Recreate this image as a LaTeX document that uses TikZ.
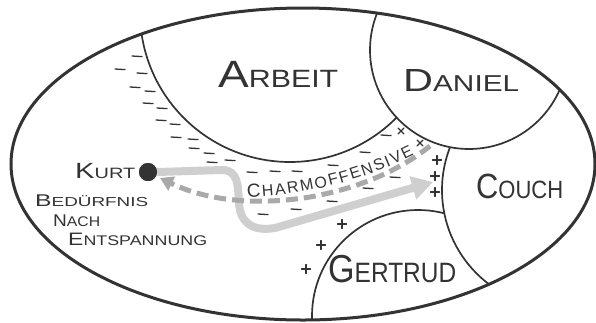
\documentclass[tikz,border=0pt]{standalone}
\usepackage{fontspec}
\setmainfont{Liberation Sans}
\usepackage{graphicx}
\usetikzlibrary{arrows.meta,decorations.text}
\definecolor{ink}{HTML}{333333}
\definecolor{lightarrow}{HTML}{CFCFCF}
\definecolor{midarrow}{HTML}{A9A9A9}
% width, big size, big letter, small size, rest
\newcommand\hw[5]{\resizebox{#1}{\height}{\fontsize{#2}{#2}\selectfont #3\fontsize{#4}{#4}\selectfont #5}}
\begin{document}
\begin{tikzpicture}[x=1pt,y=-1pt,
  region/.style={draw=ink, line width=1.7pt, fill=white},
  outline/.style={draw=ink, line width=3pt},
  lbl/.style={inner sep=0pt, text=ink, anchor=base west},
  tickmark/.style={draw=ink, line width=1.3pt, line cap=round},
  solidarrow/.style={draw=lightarrow, line width=8pt, -{Triangle[length=21pt,width=23pt]}},
  dasharrow/.style={draw=midarrow, line width=5pt, dash pattern=on 12pt off 6pt, -{Triangle[length=13pt,width=15pt]}}]
\useasboundingbox (0,0) rectangle (596,322);
\begin{scope}
  \clip (303,164) ellipse [x radius=292pt, y radius=156pt];
  \draw[region] (290,12) circle[radius=150pt];
  \draw[region] (418,316) circle[radius=106pt];
  \draw[region] (560,190) circle[radius=118pt];
  \draw[region] (469,50) circle[radius=99pt];
\end{scope}
\draw[outline] (303,164) ellipse [x radius=292pt, y radius=156pt];

% minus signs
\foreach \x/\y in {137/56,120/69,142/73,135/87,150/91,148/103,162/108,161/120,175/124,176/137,193/139,194/148,209/153,212/162,230/160,252/172,275/171,297/171,333/165,365/152,386/135,263/214,296/209,332/201,368/188,395/177}
  \draw[tickmark] (\x-5,\y) -- (\x+5,\y+0.6);
% plus signs
\foreach \x/\y in {437/160,435/176,435/192,342/224,321/245,306/269}
  \draw[tickmark] (\x-4.5,\y) -- (\x+4.5,\y) (\x,\y-4.5) -- (\x,\y+4.5);
% crosses
\foreach \x/\y in {401/131,420/143}
  \draw[tickmark] (\x-3,\y-3) -- (\x+3,\y+3) (\x-3,\y+3) -- (\x+3,\y-3);

% Kurt
\node[circle, fill=ink, minimum size=18pt, inner sep=0pt] (kurt) at (148,172) {};
\coordinate (couchtip) at (433,182);
\coordinate (dstart) at (430,146);
\coordinate (kurttip) at (160,178);
\draw[solidarrow] (kurt.east) -- (222,170) .. controls (238,170) and (238,185) .. (239,203) .. controls (240,222) and (252,232) .. (275,228) -- (couchtip);
\draw[dasharrow] (dstart) .. controls (400,170) and (360,188) .. (310,197) .. controls (260,205) and (210,202) .. (kurttip);
\node[circle, fill=ink, minimum size=18pt, inner sep=0pt] at (kurt) {};

% text along path
\path[decorate, decoration={text along path, text color=ink, text align=fit to path,
  text={|\fontsize{19}{19}\selectfont|C|\fontsize{16}{16}\selectfont|HARMOFFENSIVE}}]
  (247,197) .. controls (300,196) and (360,182) .. (414,155);

% labels
\node[lbl] (arbeit) at (218,87) {\hw{120pt}{38}{A}{25}{RBEIT}};
\node[lbl] (daniel) at (403,91) {\hw{116pt}{32}{D}{23}{ANIEL}};
\node[lbl] (couch) at (476,198) {\hw{87pt}{35}{C}{25}{OUCH}};
\node[lbl] (gertrud) at (328,282) {\hw{128pt}{39}{G}{28}{ERTRUD}};
\node[lbl] (kurtlbl) at (75,178) {\hw{60pt}{22}{K}{15}{URT}};
\node[lbl] (bed) at (35,206) {\hw{113pt}{17}{B}{13}{EDÜRFNIS}};
\node[lbl] (nach) at (53,226) {\hw{47pt}{17}{N}{14}{ACH}};
\node[lbl] (ents) at (68,245) {\hw{139pt}{18}{E}{14}{NTSPANNUNG}};
\end{tikzpicture}
\end{document}
